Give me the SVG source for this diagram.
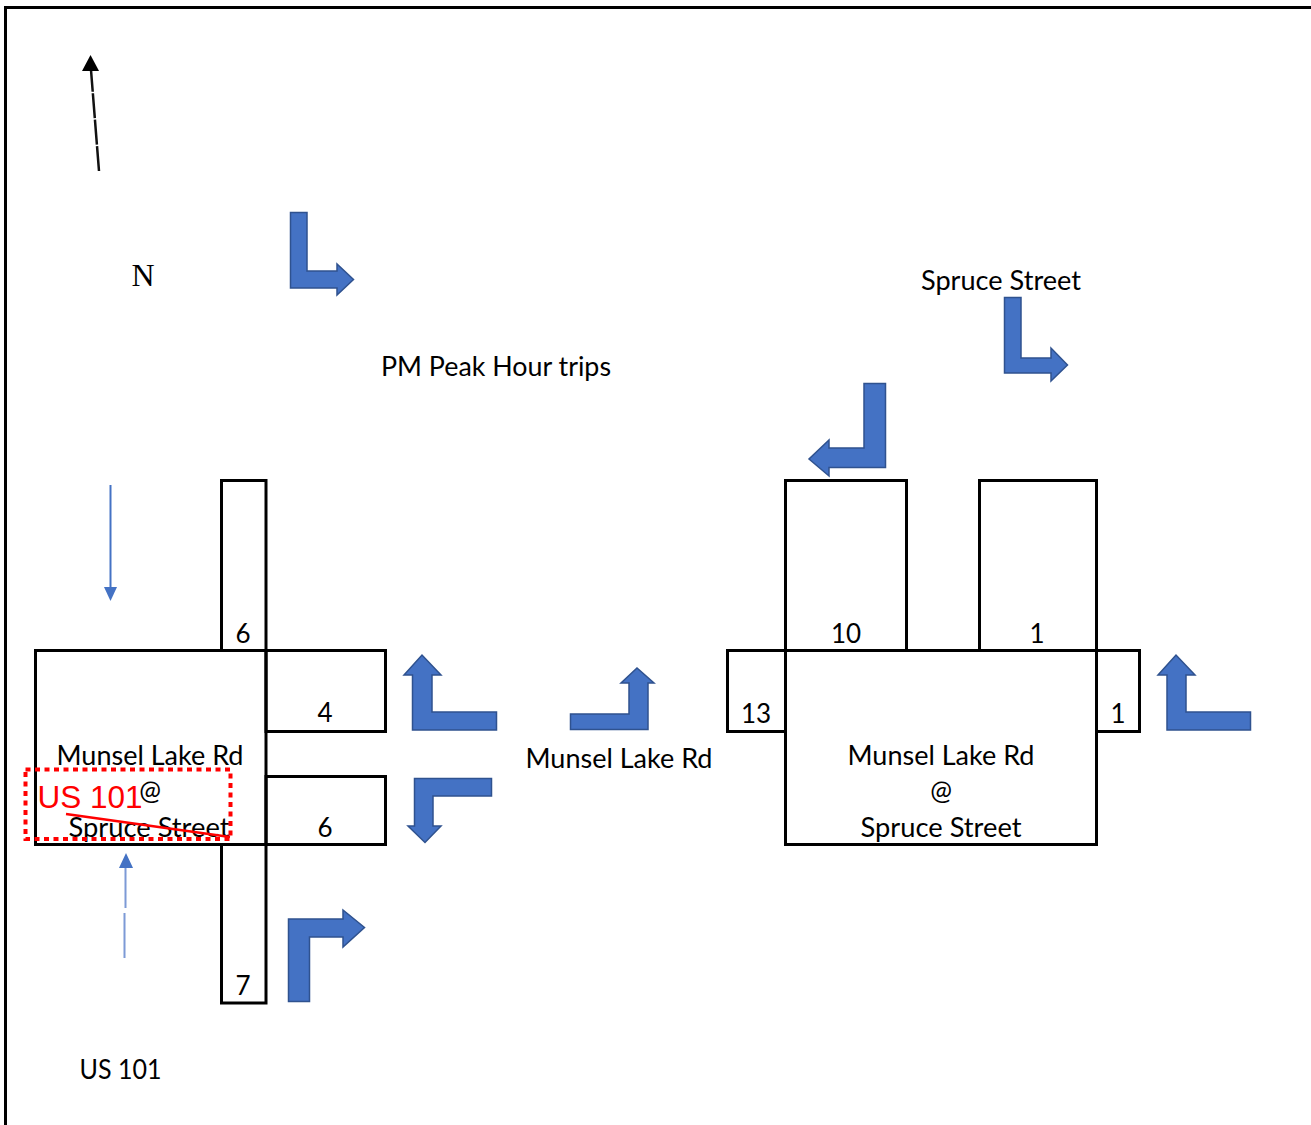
<svg xmlns="http://www.w3.org/2000/svg" width="1311" height="1125" viewBox="0 0 1311 1125">
<style>
.box{fill:none;stroke:#000;stroke-width:3}
.turn{fill:#4472c4;stroke:#2f528f;stroke-width:1.5}
.t{font-family:Lato,"Open Sans",sans-serif;font-size:26px;fill:#000;text-anchor:middle}
.thin{fill:none;stroke:#4472c4;stroke-width:2}
.head{fill:#4472c4}
</style>
<rect width="1311" height="1125" fill="#fff"/>
<path id="frame" d="M5.500 1125V7.500H1311" class="box"/>
<g id="left-intersection">
<rect id="n-left-north" class="box" x="221.500" y="480.500" width="44.500" height="170"/>
<rect id="n-left-main" class="box" x="35.500" y="650.500" width="230.500" height="194"/>
<rect id="n-left-east-top" class="box" x="266" y="650.500" width="119.500" height="81"/>
<rect id="n-left-east-bottom" class="box" x="266" y="776.500" width="119.500" height="68"/>
<rect id="n-left-south" class="box" x="221.500" y="844.500" width="44.500" height="158.500"/>
<text class="t" x="243" y="643">6</text>
<text class="t" x="325" y="722">4</text>
<text class="t" x="325" y="837">6</text>
<text class="t" x="243" y="995">7</text>
<text class="t" x="150" y="765" textLength="187" lengthAdjust="spacingAndGlyphs">Munsel Lake Rd</text>
<text class="t" x="150" y="800">@</text>
<text class="t" x="149" y="837" textLength="161" lengthAdjust="spacingAndGlyphs">Spruce Street</text>
</g>
<g id="right-intersection">
<rect id="n-right-north-a" class="box" x="785.500" y="480.500" width="121" height="170"/>
<rect id="n-right-north-b" class="box" x="979.500" y="480.500" width="117" height="170"/>
<rect id="n-right-west" class="box" x="727.500" y="650.500" width="58" height="81"/>
<rect id="n-right-main" class="box" x="785.500" y="650.500" width="311" height="194"/>
<rect id="n-right-east" class="box" x="1096.500" y="650.500" width="43" height="81"/>
<text class="t" x="846" y="643">10</text>
<text class="t" x="1037" y="643">1</text>
<text class="t" x="756" y="723">13</text>
<text class="t" x="1118" y="723">1</text>
<text class="t" x="941" y="765" textLength="187" lengthAdjust="spacingAndGlyphs">Munsel Lake Rd</text>
<text class="t" x="941" y="800">@</text>
<text class="t" x="941" y="837" textLength="161" lengthAdjust="spacingAndGlyphs">Spruce Street</text>
</g>
<g id="labels">
<text x="143" y="286" style="font-family:'Liberation Serif',serif;font-size:32px;text-anchor:middle">N</text>
<text class="t" x="496" y="376" textLength="230" lengthAdjust="spacingAndGlyphs">PM Peak Hour trips</text>
<text class="t" x="1001" y="290" textLength="160" lengthAdjust="spacingAndGlyphs">Spruce Street</text>
<text class="t" x="619" y="768" textLength="187" lengthAdjust="spacingAndGlyphs">Munsel Lake Rd</text>
<text class="t" x="120.500" y="1079" textLength="82" lengthAdjust="spacingAndGlyphs">US 101</text>
</g>
<g id="connectors">
<polygon class="turn" points="290.500,212.500 307,212.500 307,271 337,271 337,264 353.500,279.500 337,295 337,288 290.500,288"/>
<polygon class="turn" points="1004.500,297.500 1021,297.500 1021,358 1051,358 1051,348 1067.500,365 1051,381 1051,373 1004.500,373"/>
<polygon class="turn" points="864,383.500 885.500,383.500 885.500,467.500 829,467.500 829,476 809,459 829,440 829,448 864,448"/>
<polygon class="turn" points="412.500,730 412.500,675 404,675 422,655 441,675 432,675 432,712 496.500,712 496.500,730"/>
<polygon class="turn" points="570.500,714 629,714 629,683 621,683 637,668 654,683 648,683 648,729.500 570.500,729.500"/>
<polygon class="turn" points="414.500,778.500 491.500,778.500 491.500,796 433,796 433,826 441,826 425,842.500 408,826 414.500,826"/>
<polygon class="turn" points="288.500,1001.500 288.500,919 343,919 343,910 364.500,927.500 343,947 343,937 309.500,937 309.500,1001.500"/>
<polygon class="turn" points="1167,730 1167,675 1158,675 1176,655 1195,675 1186,675 1186,712 1250.500,712 1250.500,730"/>
<path class="thin" d="M110.500 485V588"/>
<polygon class="head" points="104,587 117,587 110.500,601"/>
<path d="M124.500 958V913M125.500 908V868" fill="none" stroke="#7d9ad6" stroke-width="2"/>
<polygon class="head" points="119,868 133,868 126,853"/>
<path d="M99 171L91 70" fill="none" stroke="#111" stroke-width="2.500" stroke-dasharray="25 1.500"/>
<polygon points="82,71 99,71 90.500,55" fill="#000"/>
</g>
<g id="redline">
<rect x="25.500" y="769.500" width="205" height="69.500" fill="none" stroke="#f00" stroke-width="4" stroke-dasharray="5 4.500"/>
<text x="37.500" y="807.500" style="font-family:'Liberation Sans',sans-serif;font-size:31.500px;fill:#f00">US 101</text>
<path d="M66 814L230 837" fill="none" stroke="#f00" stroke-width="2.500"/>
</g>
</svg>
